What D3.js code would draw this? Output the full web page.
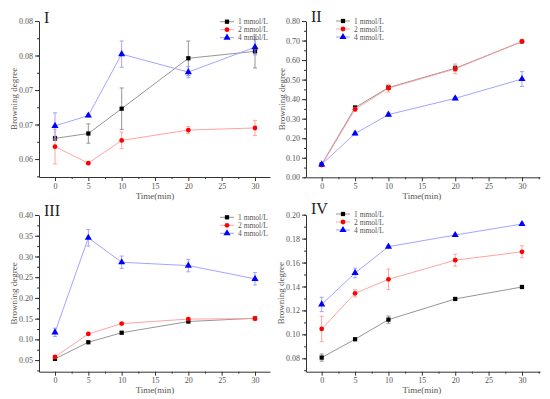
<!DOCTYPE html>
<html>
<head>
<meta charset="utf-8">
<script src="https://cdn.jsdelivr.net/npm/d3@7"></script>
<style>
  body { margin: 0; background: #fff; }
  svg { display: block; }
</style>
</head>
<body>
<div id="chart"></div>
<script>
// shared data
const times = [0, 5, 10, 20, 30];
const seriesNames = ["1 mmol/L", "2 mmol/L", "4 mmol/L"];
const xTicks = [0, 5, 10, 15, 20, 25, 30];

// panel I
const p1_1 = [0.0630, 0.0637, 0.0673, 0.0746, 0.0756];
const p1_1err = [0.0003, 0.0014, 0.0030, 0.0025, 0.0024];
const p1_2 = [0.0618, 0.0594, 0.0627, 0.0642, 0.0645];
const p1_2err = [0.0025, 0.0002, 0.0012, 0.0005, 0.0011];
const p1_4 = [0.0648, 0.0663, 0.0752, 0.0726, 0.0762];
const p1_4err = [0.0019, 0.0002, 0.0019, 0.0008, 0.0011];
const yTicks1 = [0.060, 0.065, 0.070, 0.075, 0.080];
const yLabels1 = ["0.06", "0.07", "0.07", "0.08", "0.08"];

// panel II
const p2_1 = [0.066, 0.357, 0.459, 0.558, 0.694];
const p2_1err = [0.005, 0.008, 0.010, 0.015, 0.008];
const p2_2 = [0.063, 0.348, 0.456, 0.555, 0.696];
const p2_2err = [0.005, 0.010, 0.020, 0.025, 0.010];
const p2_4 = [0.066, 0.224, 0.321, 0.404, 0.503];
const p2_4err = [0.005, 0.008, 0.008, 0.008, 0.038];
const yTicks2 = [0, 0.1, 0.2, 0.3, 0.4, 0.5, 0.6, 0.7, 0.8];
const yLabels2 = ["0.00", "0.10", "0.20", "0.30", "0.40", "0.50", "0.60", "0.70", "0.80"];

// panel III
const p3_1 = [0.053, 0.093, 0.116, 0.143, 0.151];
const p3_1err = [0.003, 0.002, 0.003, 0.003, 0.003];
const p3_2 = [0.058, 0.113, 0.138, 0.149, 0.150];
const p3_2err = [0.003, 0.002, 0.002, 0.003, 0.004];
const p3_4 = [0.117, 0.345, 0.286, 0.278, 0.246];
const p3_4err = [0.010, 0.020, 0.015, 0.015, 0.015];
const yTicks3 = [0.05, 0.10, 0.15, 0.20, 0.25, 0.30, 0.35, 0.40];
const yLabels3 = ["0.05", "0.10", "0.15", "0.20", "0.25", "0.30", "0.35", "0.40"];

// panel IV
const p4_1 = [0.0806, 0.0959, 0.1123, 0.1296, 0.1396];
const p4_1err = [0.003, 0.001, 0.003, 0.001, 0.001];
const p4_2 = [0.1045, 0.1343, 0.1460, 0.1620, 0.1690];
const p4_2err = [0.0107, 0.003, 0.0086, 0.005, 0.005];
const p4_4 = [0.1250, 0.1513, 0.1733, 0.1830, 0.1922];
const p4_4err = [0.006, 0.004, 0.001, 0.001, 0.001];
const yTicks4 = [0.08, 0.10, 0.12, 0.14, 0.16, 0.18, 0.20];
const yLabels4 = ["0.08", "0.10", "0.12", "0.14", "0.16", "0.18", "0.20"];

const markerColors = ["#000000", "#ff0000", "#0000ff"];
const lineColors = ["#8a8a8a", "#ff9a9a", "#9a9aff"];
const shapes = [d3.symbolSquare, d3.symbolCircle, d3.symbolTriangle];
const shapeSizes = [18, 18, 22];

const panels = [
  { title: "I", series: [[p1_1, p1_1err], [p1_2, p1_2err], [p1_4, p1_4err]],
    yTicks: yTicks1, yLabels: yLabels1, yDomain: [0.0574, 0.080], yMinor: 0.0025,
    left: 39, right: 270, top: 21, bottom: 177, xDomain: [-2.4, 32.25],
    titleX: 44, titleY: 23, legX: 220, legY: 21.7, ylabX: 17, xlabY: 199 },
  { title: "II", series: [[p2_1, p2_1err], [p2_2, p2_2err], [p2_4, p2_4err]],
    yTicks: yTicks2, yLabels: yLabels2, yDomain: [0, 0.8], yMinor: 0.05,
    left: 306, right: 540, top: 21, bottom: 177.3, xDomain: [-2.35, 32.7],
    titleX: 311, titleY: 22, legX: 336, legY: 21, ylabX: 285, xlabY: 199 },
  { title: "III", series: [[p3_1, p3_1err], [p3_2, p3_2err], [p3_4, p3_4err]],
    yTicks: yTicks3, yLabels: yLabels3, yDomain: [0.022, 0.40], yMinor: 0.025,
    left: 39, right: 270, top: 215, bottom: 371.7, xDomain: [-2.4, 32.25],
    titleX: 44, titleY: 216, legX: 220, legY: 217.3, ylabX: 17, xlabY: 393 },
  { title: "IV", series: [[p4_1, p4_1err], [p4_2, p4_2err], [p4_4, p4_4err]],
    yTicks: yTicks4, yLabels: yLabels4, yDomain: [0.0688, 0.20], yMinor: 0.01,
    left: 306, right: 540, top: 214.7, bottom: 371.7, xDomain: [-2.35, 32.7],
    titleX: 311, titleY: 214, legX: 336, legY: 214, ylabX: 284, xlabY: 393 }
];

const svg = d3.select("#chart").append("svg")
  .attr("width", 550).attr("height", 399);

const tickFont = "Liberation Serif";

panels.forEach(function(p) {
  let g = svg.append("g");
  let x = d3.scaleLinear().domain(p.xDomain).range([p.left, p.right]);
  let y = d3.scaleLinear().domain(p.yDomain).range([p.bottom, p.top]);

  // y minor ticks
  let yMinorTicks = d3.range(p.yTicks[0] - p.yMinor, p.yDomain[1] + 1e-9, p.yMinor)
    .filter(function(v) { return v >= p.yDomain[0] - 1e-9; });
  g.append("g")
    .attr("transform", `translate(${p.left},0)`)
    .call(d3.axisLeft(y).tickValues(yMinorTicks).tickSize(2).tickFormat(""))
    .call(function(a) { a.select(".domain").remove(); a.selectAll("line").attr("stroke", "#333"); });

  // y axis
  g.append("g")
    .attr("transform", `translate(${p.left},0)`)
    .call(d3.axisLeft(y).tickValues(p.yTicks).tickSize(4).tickSizeOuter(0).tickPadding(2)
      .tickFormat(function(d, i) { return p.yLabels[i]; }))
    .call(function(a) {
      a.select(".domain").attr("stroke", "#333");
      a.selectAll("line").attr("stroke", "#333");
      a.selectAll("text").attr("font-family", tickFont).attr("font-size", 8).attr("fill", "#555");
    });

  // x minor ticks
  let xMinorTicks = d3.range(-2.5, p.xDomain[1], 2.5)
    .filter(function(v) { return v >= p.xDomain[0] && v % 5 !== 0; });
  g.append("g")
    .attr("transform", `translate(0,${p.bottom})`)
    .call(d3.axisBottom(x).tickValues(xMinorTicks).tickSize(2).tickFormat(""))
    .call(function(a) { a.select(".domain").remove(); a.selectAll("line").attr("stroke", "#333"); });

  // x axis
  g.append("g")
    .attr("transform", `translate(0,${p.bottom})`)
    .call(d3.axisBottom(x).tickValues(xTicks).tickSize(4).tickSizeOuter(0).tickPadding(2))
    .call(function(a) {
      a.select(".domain").attr("stroke", "#333");
      a.selectAll("line").attr("stroke", "#333");
      a.selectAll("text").attr("font-family", tickFont).attr("font-size", 8).attr("fill", "#555");
    });

  // axis labels
  g.append("text")
    .attr("transform", `translate(${p.ylabX},${(p.top + p.bottom) / 2}) rotate(-90)`)
    .attr("text-anchor", "middle")
    .attr("font-family", tickFont).attr("font-size", 9).attr("fill", "#555")
    .text("Browning degree");
  g.append("text")
    .attr("x", (x(0) + x(30)) / 2).attr("y", p.xlabY)
    .attr("text-anchor", "middle")
    .attr("font-family", tickFont).attr("font-size", 9).attr("fill", "#555")
    .text("Time(min)");

  // panel title
  g.append("text")
    .attr("x", p.titleX).attr("y", p.titleY)
    .attr("font-family", tickFont).attr("font-size", 16).attr("fill", "#222")
    .text(p.title);

  // series
  let line = d3.line()
    .x(function(d) { return x(d[0]); })
    .y(function(d) { return y(d[1]); });

  p.series.forEach(function(s, si) {
    let vals = s[0], errs = s[1];
    let pts = times.map(function(t, i) { return [t, vals[i], errs[i]]; });
    let sg = g.append("g");

    sg.append("path").datum(pts)
      .attr("d", line).attr("fill", "none")
      .attr("stroke", lineColors[si]).attr("stroke-width", 0.9);

    // error bars
    let eb = sg.selectAll(".eb").data(pts).enter().append("g");
    eb.append("line")
      .attr("x1", function(d) { return x(d[0]); }).attr("x2", function(d) { return x(d[0]); })
      .attr("y1", function(d) { return y(d[1] - d[2]); }).attr("y2", function(d) { return y(d[1] + d[2]); })
      .attr("stroke", lineColors[si]).attr("stroke-width", 0.9);
    [1, -1].forEach(function(sign) {
      eb.append("line")
        .attr("x1", function(d) { return x(d[0]) - 2; }).attr("x2", function(d) { return x(d[0]) + 2; })
        .attr("y1", function(d) { return y(d[1] + sign * d[2]); }).attr("y2", function(d) { return y(d[1] + sign * d[2]); })
        .attr("stroke", lineColors[si]).attr("stroke-width", 0.9);
    });

    sg.selectAll(".mk").data(pts).enter().append("path")
      .attr("d", d3.symbol().type(shapes[si]).size(shapeSizes[si]))
      .attr("transform", function(d) { return `translate(${x(d[0])},${y(d[1])})`; })
      .attr("fill", markerColors[si]);
  });

  // legend
  seriesNames.forEach(function(name, si) {
    let ly = p.legY + si * 8;
    g.append("line")
      .attr("x1", p.legX).attr("x2", p.legX + 14)
      .attr("y1", ly).attr("y2", ly)
      .attr("stroke", lineColors[si]).attr("stroke-width", 0.9);
    g.append("path")
      .attr("d", d3.symbol().type(shapes[si]).size(shapeSizes[si])())
      .attr("transform", `translate(${p.legX + 7},${ly})`)
      .attr("fill", markerColors[si]);
    g.append("text")
      .attr("x", p.legX + 18).attr("y", ly + 2.5)
      .attr("font-family", tickFont).attr("font-size", 7.5).attr("fill", "#555")
      .text(name);
  });
});
</script>
</body>
</html>
